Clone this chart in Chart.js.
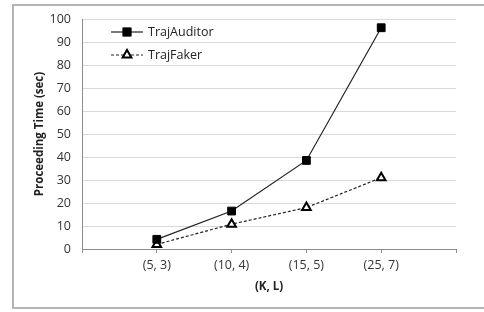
<!DOCTYPE html>
<html>
<head>
<meta charset="utf-8">
<script src="https://cdn.jsdelivr.net/npm/chart.js@4.4.1/dist/chart.umd.min.js"></script>
<style>
  html, body { margin: 0; padding: 0; background: #fff; }
  #wrap { width: 484px; height: 312px; position: relative; }
</style>
</head>
<body>
<div id="wrap"><canvas id="myChart" width="484" height="312"></canvas></div>
<script>
// categories (blank slot at each end, like the original spreadsheet chart)
var categories = ['', '(5, 3)', '(10, 4)', '(15, 5)', '(25, 7)', ''];
var auditorValues = [null, 4.2, 16.5, 38.5, 96.2, null];
var fakerValues = [null, 2, 10.8, 18, 31, null];
var yTicks = [0, 10, 20, 30, 40, 50, 60, 70, 80, 90, 100];

var FONT = "'Open Sans', 'DejaVu Sans', sans-serif";

// outer frame like the screenshot
var framePlugin = {
    id: 'frame',
    beforeDraw: function (chart) {
        var ctx = chart.ctx;
        ctx.save();
        ctx.strokeStyle = '#b4b4b4';
        ctx.lineWidth = 2;
        ctx.strokeRect(13, 5, 480, 303);
        ctx.restore();
    }
};

// legend drawn inside the plot, top left
var legendPlugin = {
    id: 'innerLegend',
    afterDatasetsDraw: function (chart) {
        var ctx = chart.ctx;
        var x0 = 111, x1 = 143;
        var rows = [32, 55];
        ctx.save();
        chart.data.datasets.forEach(function (ds, i) {
            var y = rows[i];
            ctx.strokeStyle = ds.borderColor;
            ctx.lineWidth = ds.borderWidth;
            ctx.setLineDash(ds.borderDash || []);
            ctx.beginPath();
            ctx.moveTo(x0, y);
            ctx.lineTo(x1, y);
            ctx.stroke();
            ctx.setLineDash([]);
            Chart.helpers.drawPoint(ctx, {
                pointStyle: ds.pointStyle,
                radius: ds.pointRadius,
                borderWidth: ds.pointBorderWidth
            }, (x0 + x1) / 2, y);
            ctx.fillStyle = ds.pointBackgroundColor;
            ctx.strokeStyle = ds.pointBorderColor;
            ctx.lineWidth = ds.pointBorderWidth;
            ctx.fill();
            ctx.stroke();
            ctx.fillStyle = '#222';
            ctx.font = '12.5px ' + FONT;
            ctx.textBaseline = 'middle';
            ctx.textAlign = 'left';
            ctx.fillText(ds.label, x1 + 5, y);
        });
        ctx.restore();
    }
};

var ctx = document.getElementById('myChart').getContext('2d');
window.myChart = new Chart(ctx, {
    type: 'line',
    data: {
        labels: categories,
        datasets: [
            {
                label: 'TrajAuditor',
                data: auditorValues,
                borderColor: '#222',
                borderWidth: 1.2,
                pointStyle: 'rect',
                pointRadius: 5.5,
                pointBorderWidth: 1,
                pointBackgroundColor: '#000',
                pointBorderColor: '#000',
                tension: 0
            },
            {
                label: 'TrajFaker',
                data: fakerValues,
                borderColor: '#222',
                borderWidth: 1.2,
                borderDash: [3, 2],
                pointStyle: 'triangle',
                pointRadius: 5,
                pointBorderWidth: 2,
                pointBackgroundColor: '#fff',
                pointBorderColor: '#000',
                tension: 0
            }
        ]
    },
    options: {
        responsive: false,
        animation: false,
        layout: { padding: { left: 29, right: 28, top: 19, bottom: 14 } },
        plugins: {
            legend: { display: false },
            tooltip: { enabled: false }
        },
        scales: {
            x: {
                offset: false,
                grid: { drawOnChartArea: false, drawTicks: true, tickLength: 4, color: '#8c8c8c' },
                border: { color: '#8c8c8c' },
                ticks: { color: '#333', font: { family: FONT, size: 12.5 }, padding: 5, maxRotation: 0, autoSkip: false },
                title: { display: true, text: '(K, L)', color: '#222', font: { family: FONT, size: 11.5, weight: 'bold' }, padding: { top: 2 } },
                afterFit: function (scale) { scale.height = 49; }
            },
            y: {
                min: 0,
                max: 100,
                afterBuildTicks: function (scale) {
                    scale.ticks = yTicks.map(function (v) { return { value: v }; });
                },
                grid: { color: '#d9d9d9', drawTicks: false },
                border: { color: '#8c8c8c' },
                ticks: { color: '#333', font: { family: FONT, size: 12.5 }, padding: 11 },
                title: { display: true, text: 'Proceeding Time (sec)', color: '#222', font: { family: FONT, size: 11.5, weight: 'bold' }, padding: { bottom: 2 } },
                afterFit: function (scale) { scale.width = 53; }
            }
        }
    },
    plugins: [framePlugin, legendPlugin]
});
</script>
</body>
</html>
